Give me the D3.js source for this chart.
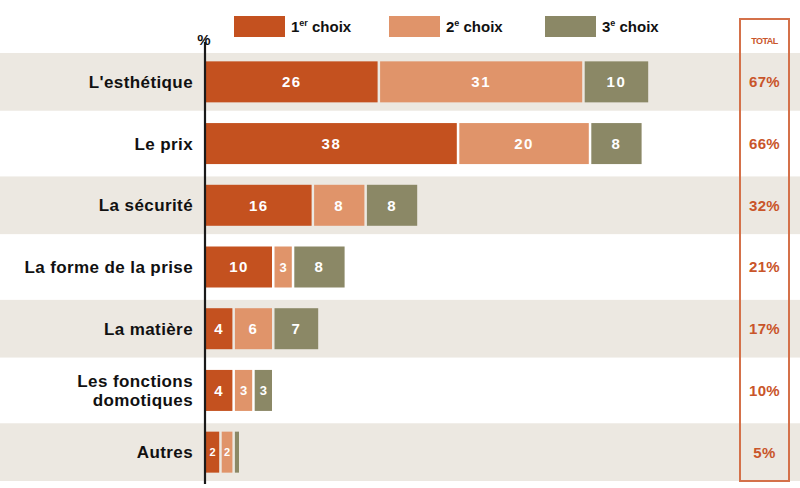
<!DOCTYPE html>
<html>
<head>
<meta charset="utf-8">
<script src="https://cdn.jsdelivr.net/npm/d3@7"></script>
<style>
  body { margin: 0; background: #fff; }
  svg { display: block; font-family: "Liberation Sans", Arial, sans-serif; }
</style>
</head>
<body>
<div id="chart"></div>
<script>
// data
const categories = ["L'esthétique", "Le prix", "La sécurité", "La forme de la prise", "La matière", "Les fonctions\ndomotiques", "Autres"];
const choix1 = [26, 38, 16, 10, 4, 4, 2];
const choix2 = [31, 20, 8, 3, 6, 3, 2];
const choix3 = [10, 8, 8, 8, 7, 3, 1];
const totals = [67, 66, 32, 21, 17, 10, 5];
const seriesNames = [["1", "er", " choix"], ["2", "e", " choix"], ["3", "e", " choix"]];
const colors = ["#c4511f", "#e0946a", "#8b8866"];

const width = 800, height = 488;
const svg = d3.select("#chart").append("svg")
    .attr("width", width)
    .attr("height", height);

// scales
const x = d3.scaleLinear().domain([0, 70]).range([206, 206 + 70 * 6.6]);
const y = d3.scaleBand().domain(categories).range([51, 483]).paddingInner(0);
const bw = y.bandwidth();
const barH = 41;
const gap = 2.5;

// alternating background bands
svg.append("g")
    .selectAll("rect")
    .data(categories.filter((d, i) => i % 2 === 0))
    .enter().append("rect")
    .attr("x", 0)
    .attr("y", d => y(d) + 2)
    .attr("width", width)
    .attr("height", bw - 4)
    .attr("fill", "#ece8e1");

// stacked segments
const series = [choix1, choix2, choix3];
const rows = categories.map((c, i) => {
    let cum = 0;
    return series.map((s, k) => {
        const seg = { cat: c, k: k, v: s[i], x0: cum };
        cum += s[i];
        return seg;
    });
});

const segStart = d => x(d.x0) + (d.k > 0 ? gap : 0);
const segWidth = d => x(d.v) - x(0) - (d.k > 0 ? gap : 0);

const seg = svg.append("g")
    .selectAll("g")
    .data(rows.flat())
    .enter().append("g");

seg.append("rect")
    .attr("x", segStart)
    .attr("y", d => y(d.cat) + (bw - barH) / 2)
    .attr("width", segWidth)
    .attr("height", barH)
    .attr("fill", d => colors[d.k]);

// labels only where the segment is wide enough to hold them
seg.filter(d => segWidth(d) > 8)
    .append("text")
    .attr("x", d => segStart(d) + segWidth(d) / 2)
    .attr("y", d => y(d.cat) + bw / 2)
    .attr("dy", "0.36em")
    .attr("text-anchor", "middle")
    .attr("fill", "#fff")
    .attr("font-weight", "bold")
    .attr("font-size", d => d.v < 3 ? 11 : (d.v < 4 ? 13 : 15))
    .attr("letter-spacing", d => d.v < 4 ? 0 : 1.5)
    .text(d => d.v);

// category labels
const labels = svg.append("g")
    .selectAll("text")
    .data(categories)
    .enter().append("text")
    .attr("x", 193)
    .attr("y", d => y(d) + bw / 2)
    .attr("text-anchor", "end")
    .attr("font-weight", "bold")
    .attr("font-size", 17)
    .attr("fill", "#111")
    .attr("letter-spacing", "0.4");

labels.each(function (d) {
    const lines = d.split("\n");
    const t = d3.select(this);
    lines.forEach((l, i) => {
        t.append("tspan")
            .attr("x", 193)
            .attr("dy", i === 0 ? (0.36 - (lines.length - 1) * 0.56) + "em" : "1.12em")
            .text(l);
    });
});

// vertical axis line and % sign
svg.append("line")
    .attr("x1", 205).attr("x2", 205)
    .attr("y1", 42).attr("y2", 484)
    .attr("stroke", "#1a1a1a")
    .attr("stroke-width", 2.2);

svg.append("text")
    .attr("x", 204)
    .attr("y", 45)
    .attr("text-anchor", "middle")
    .attr("font-weight", "bold")
    .attr("font-size", 15)
    .attr("fill", "#111")
    .text("%");

// legend
const legendX = [234, 389, 545];
const legend = svg.append("g")
    .selectAll("g")
    .data(seriesNames)
    .enter().append("g")
    .attr("transform", (d, i) => `translate(${legendX[i]},16)`);

legend.append("rect")
    .attr("width", 51)
    .attr("height", 21)
    .attr("fill", (d, i) => colors[i]);

const lt = legend.append("text")
    .attr("x", 57)
    .attr("y", 16)
    .attr("font-weight", "bold")
    .attr("font-size", 15)
    .attr("fill", "#111");
lt.append("tspan").text(d => d[0]);
lt.append("tspan").attr("font-size", 9).attr("dy", -6).text(d => d[1]);
lt.append("tspan").attr("dy", 6).text(d => d[2]);

// total column
const totalColor = "#c9552a";
svg.append("rect")
    .attr("x", 740)
    .attr("y", 19)
    .attr("width", 49)
    .attr("height", 462)
    .attr("fill", "none")
    .attr("stroke", "#d4714a")
    .attr("stroke-width", 2);

svg.append("text")
    .attr("x", 764.5)
    .attr("y", 44)
    .attr("text-anchor", "middle")
    .attr("font-weight", "bold")
    .attr("font-size", 9)
    .attr("letter-spacing", "-0.5")
    .attr("fill", totalColor)
    .text("TOTAL");

svg.append("g")
    .selectAll("text")
    .data(totals)
    .enter().append("text")
    .attr("x", 764.5)
    .attr("y", (d, i) => y(categories[i]) + bw / 2)
    .attr("dy", "0.36em")
    .attr("text-anchor", "middle")
    .attr("font-weight", "bold")
    .attr("font-size", 15)
    .attr("letter-spacing", "0.3")
    .attr("fill", totalColor)
    .text(d => d + "%");
</script>
</body>
</html>
